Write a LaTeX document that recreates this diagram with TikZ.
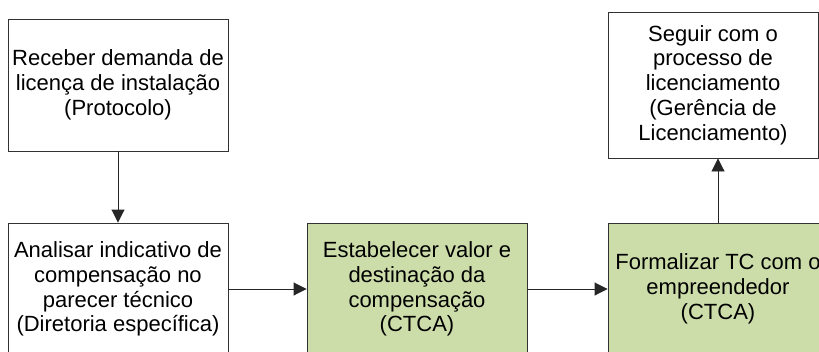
\documentclass[tikz,border=0pt]{standalone}
\usepackage{fontspec}
\setmainfont{Liberation Sans}
\usetikzlibrary{arrows.meta}
\definecolor{boxgreen}{RGB}{205,221,170}
\definecolor{edge}{RGB}{50,50,50}
\tikzset{
  box/.style={draw=edge, line width=0.9pt, fill=white, minimum width=220pt, minimum height=132pt,
    inner sep=0pt, align=center, text=black,
    font=\fontsize{22}{24.8}\selectfont},
  greenbox/.style={box, fill=boxgreen},
  conn/.style={draw=black!85, line width=0.9pt, -{Triangle[length=13pt,width=13pt]}}
}
\begin{document}
\begin{tikzpicture}[x=1pt,y=-1pt]
\useasboundingbox (0,0) rectangle (819,351);
\clip (0,0) rectangle (819,351);
\fill[white] (0,0) rectangle (819,351);
\node[box] (b1) at (118,85) {Receber demanda de\\licença de instalação\\(Protocolo)};
\node[box] (b2) at (118,289) {Analisar indicativo de\\compensação no\\parecer técnico\\(Diretoria específica)};
\node[greenbox] (b3) at (417,289) {Estabelecer valor e\\destinação da\\compensação\\(CTCA)};
\node[greenbox] (b4) at (718,289) {Formalizar TC com o\\empreendedor\\(CTCA)};
\node[box, minimum width=210pt, minimum height=146pt] (b5) at (713,85) {Seguir com o\\processo de\\licenciamento\\(Gerência de\\Licenciamento)};
\draw[conn] (b1.south) -- (b2.north);
\draw[conn] (b2.east) -- (b3.west);
\draw[conn] (b3.east) -- (b4.west);
\draw[conn] (b4.north) -- (b4.north |- b5.south);
\end{tikzpicture}
\end{document}
